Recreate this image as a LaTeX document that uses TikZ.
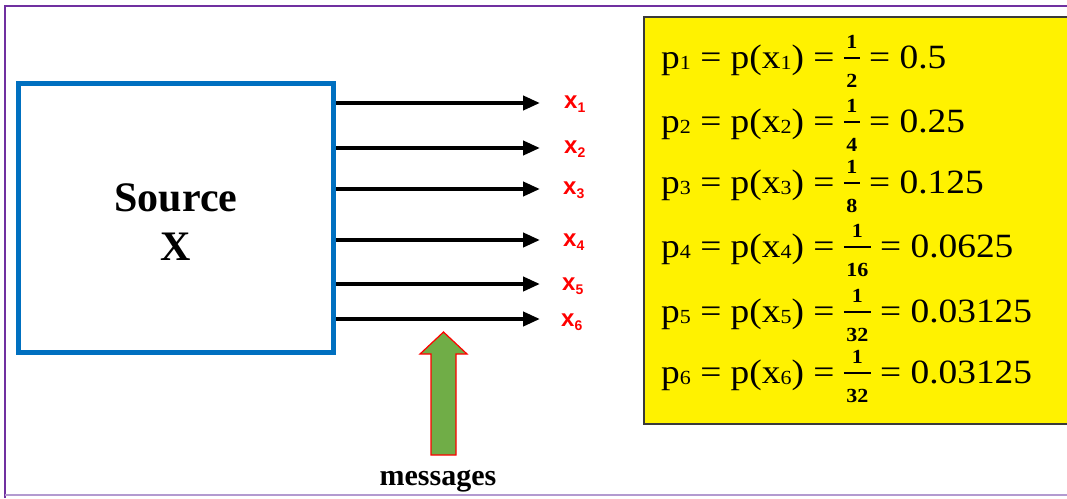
\documentclass[tikz,border=0pt]{standalone}
\usepackage{fontspec}
\setmainfont{Liberation Serif}
\setsansfont{Liberation Sans}
\newfontfamily\eqfont[FakeStretch=1.1]{Liberation Serif}
\usetikzlibrary{arrows.meta}
\definecolor{frameviolet}{HTML}{7030A0}
\definecolor{framelight}{HTML}{B39AD0}
\definecolor{srcblue}{HTML}{0070C0}
\definecolor{msggreen}{HTML}{70AD47}
\definecolor{boxgray}{HTML}{3A3A3A}
% small index used in the probability table
\newcommand\lowsub[1]{\raisebox{-1pt}{\fontsize{20}{20}\selectfont #1}}
% index of the red message labels
\newcommand\msgsub[1]{\raisebox{-4pt}{\fontsize{14}{14}\selectfont #1}}
% stacked fraction with bold digits
\newcommand\fracdigits{\bfseries\fontsize{20}{20}\selectfont}
\newcommand\pfrac[2]{%
  \sbox0{\fracdigits #1}\sbox2{\fracdigits #2}%
  \ifdim\wd0>\wd2 \dimen0=\wd0 \else \dimen0=\wd2 \fi
  \advance\dimen0 by 5pt
  \rlap{\makebox[\dimen0]{\raisebox{20pt}{\usebox0}}}%
  \rlap{\makebox[\dimen0]{\raisebox{-19pt}{\usebox2}}}%
  \raisebox{9.2pt}{\rule{\dimen0}{1.6pt}}}
\tikzset{
  srcbox/.style={draw=srcblue, line width=5pt, minimum width=315pt, minimum height=269pt,
    inner sep=0pt},
  srctext/.style={align=center, inner sep=0pt, font=\bfseries\fontsize{42}{49}\selectfont},
  msg/.style={line width=4pt, -{Triangle[length=17pt,width=14pt]}},
  lbl/.style={anchor=west, text=red, inner sep=0pt,
    font=\sffamily\bfseries\fontsize{24}{24}\selectfont},
  eq/.style={anchor=base west, inner sep=0pt, font=\eqfont\fontsize{34}{40}\selectfont},
  probbox/.style={draw=boxgray, fill=yellow, line width=2pt, anchor=north west,
    minimum width=440pt, minimum height=407pt, inner sep=0pt},
  bigarrow/.style={fill=msggreen, draw=red, line width=1.2pt},
}
\begin{document}
\begin{tikzpicture}[x=1pt,y=-1pt]
\useasboundingbox (0,0) rectangle (1067,498);
\clip (0,0) rectangle (1067,498);
\fill[white] (0,0) rectangle (1067,498);

% outer frame
\draw[line width=2pt, frameviolet] (5,498) -- (5,6) -- (1067,6);
\draw[line width=1.5pt, framelight] (5,495) -- (1067,495);

% source
\node[srcbox] (src) at (176,218) {};
\node[srctext] (srclabel) at (176,222) {Source\\X};

% message outputs
\coordinate (e1) at (540,103);
\coordinate (e2) at (540,148);
\coordinate (e3) at (540,189);
\coordinate (e4) at (540,240);
\coordinate (e5) at (540,284);
\coordinate (e6) at (540,319);
\foreach \i in {1,...,6} {
  \draw[msg] (src.east |- e\i) -- (e\i);
}
\node[lbl] (x1) at (564,104) {x\msgsub{1}};
\node[lbl] (x2) at (564,149) {x\msgsub{2}};
\node[lbl] (x3) at (563,190) {x\msgsub{3}};
\node[lbl] (x4) at (563,242) {x\msgsub{4}};
\node[lbl] (x5) at (562,286) {x\msgsub{5}};
\node[lbl] (x6) at (561,322) {x\msgsub{6}};

% messages pointer
\draw[bigarrow] (431,455) -- (431,354) -- (420,354) -- (443.5,332) -- (467,354)
  -- (456,354) -- (456,455) -- cycle;
\node[font=\bfseries\fontsize{30}{30}\selectfont, inner sep=0pt] (msgs) at (438,481) {messages};

% probability table
\node[probbox] (tab) at (643,16) {};
\node[eq] (p1) at (661,68)  {p\lowsub{1} = p(x\lowsub{1}) = \pfrac{1}{2} = 0.5};
\node[eq] (p2) at (661,132) {p\lowsub{2} = p(x\lowsub{2}) = \pfrac{1}{4} = 0.25};
\node[eq] (p3) at (661,193) {p\lowsub{3} = p(x\lowsub{3}) = \pfrac{1}{8} = 0.125};
\node[eq] (p4) at (661,257) {p\lowsub{4} = p(x\lowsub{4}) = \pfrac{1}{16} = 0.0625};
\node[eq] (p5) at (661,322) {p\lowsub{5} = p(x\lowsub{5}) = \pfrac{1}{32} = 0.03125};
\node[eq] (p6) at (661,383) {p\lowsub{6} = p(x\lowsub{6}) = \pfrac{1}{32} = 0.03125};
\end{tikzpicture}
\end{document}
